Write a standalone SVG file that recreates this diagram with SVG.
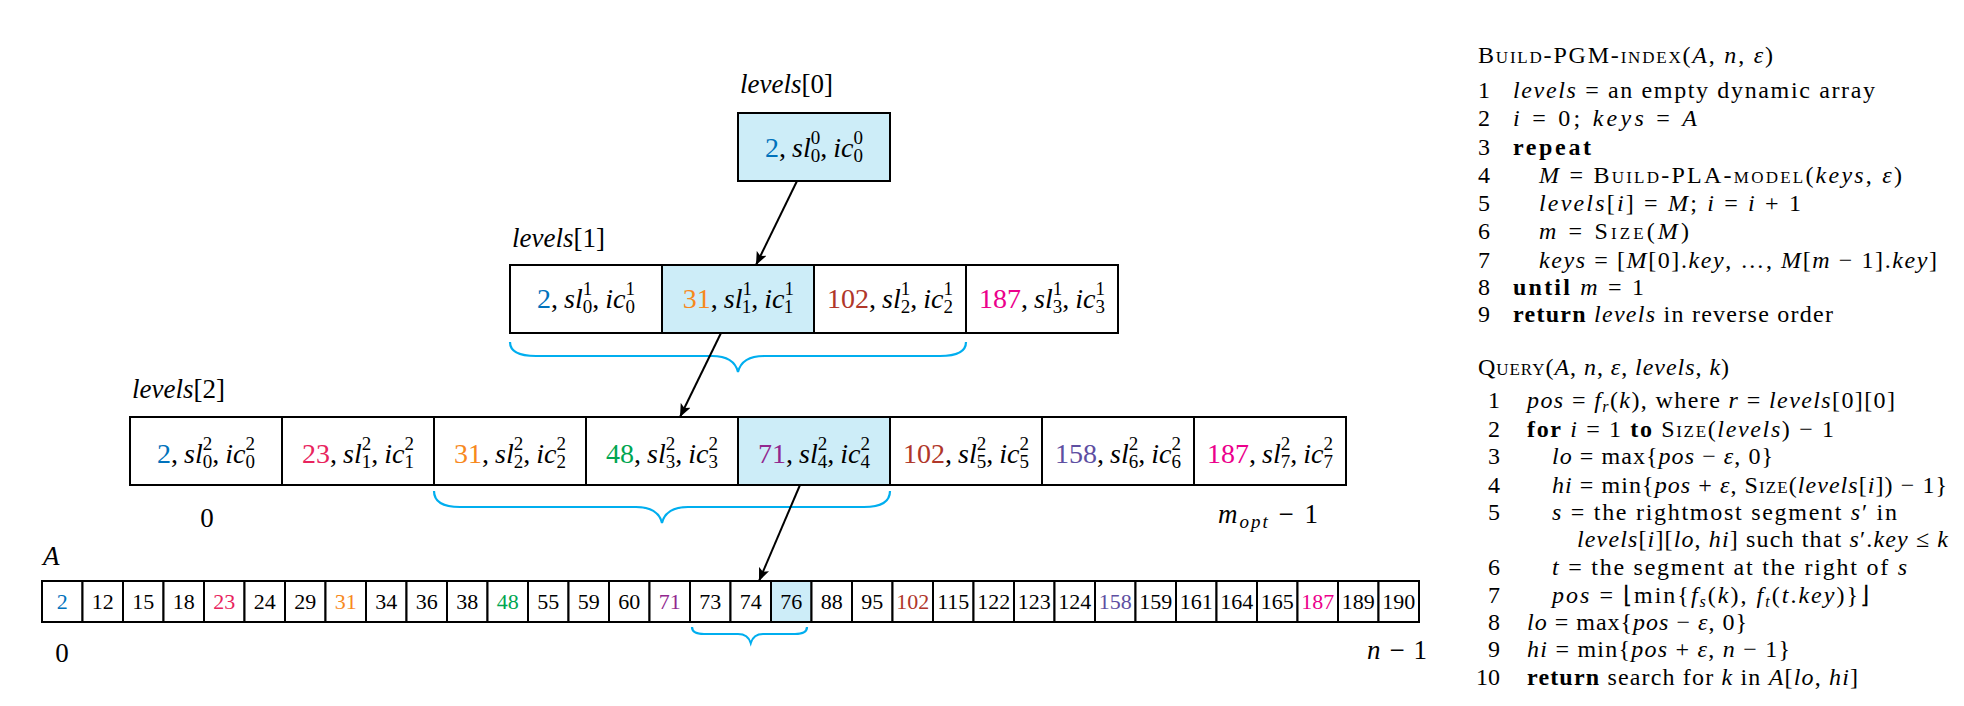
<svg xmlns="http://www.w3.org/2000/svg" width="1964" height="706" viewBox="0 0 1964 706">
<style>
.box{stroke:#000;stroke-width:2;fill:#fff}
.hl{fill:#cdedf8}
.t{font-family:"Liberation Serif","Times New Roman",serif;font-size:28px;fill:#000}
.lb{font-family:"Liberation Serif","Times New Roman",serif;font-size:27px;fill:#000}
.n{font-family:"Liberation Serif","Times New Roman",serif;font-size:22px;fill:#000}
.p{font-family:"Liberation Serif","Times New Roman",serif;font-size:24px;fill:#000}
.s{font-size:19px;font-style:normal}
.i{font-style:italic}
.b{font-weight:bold}
.sc{font-variant:small-caps}
.brace{fill:none;stroke:#00aeef;stroke-width:2.2}
.edge{stroke:#000;stroke-width:2;fill:none}
.c1{fill:#0072bc}.c2{fill:#e8245e}.c3{fill:#f7891e}.c4{fill:#00a651}.c5{fill:#92278f}.c6{fill:#b0372a}.c7{fill:#5e4fa2}.c8{fill:#ec008c}
</style>
<defs>
<marker id="ah" markerWidth="14" markerHeight="11" refX="13" refY="5.5" orient="auto" markerUnits="userSpaceOnUse"><path d="M0,0 L13,5.5 L0,11 L3,5.5 Z" fill="#000"/></marker>
</defs>

<!-- labels -->
<g id="labels">
<text x="740" y="93" class="lb"><tspan class="i">levels</tspan>[0]</text>
<text x="512" y="247" class="lb"><tspan class="i">levels</tspan>[1]</text>
<text x="132" y="398" class="lb"><tspan class="i">levels</tspan>[2]</text>
<text x="43" y="565" class="lb i">A</text>
<text x="207" y="527" class="lb" text-anchor="middle">0</text>
<text x="1218" y="523" class="lb" textLength="100" lengthAdjust="spacing"><tspan class="i">m</tspan><tspan class="i" font-size="19" dy="5">opt</tspan><tspan dy="-5"> − 1</tspan></text>
<text x="62" y="662" class="lb" text-anchor="middle">0</text>
<text x="1367" y="659" class="lb" textLength="60" lengthAdjust="spacing"><tspan class="i">n</tspan> − 1</text>
</g>

<!-- levels[0] -->
<g id="l0-0"><rect x="738" y="113" width="152" height="68" class="box hl"/><text x="814" y="157" class="t" text-anchor="middle"><tspan class="c1">2</tspan>,<tspan class="i" dx="6">sl</tspan><tspan class="s" dy="-13">0</tspan><tspan class="s" dx="-9.5" dy="18">0</tspan><tspan dy="-5">,</tspan><tspan class="i" dx="6">ic</tspan><tspan class="s" dy="-13">0</tspan><tspan class="s" dx="-9.5" dy="18">0</tspan></text></g>

<!-- levels[1] -->
<g id="l1-0"><rect x="510" y="265" width="152" height="68" class="box"/><text x="586" y="308" class="t" text-anchor="middle"><tspan class="c1">2</tspan>,<tspan class="i" dx="6">sl</tspan><tspan class="s" dy="-13">1</tspan><tspan class="s" dx="-9.5" dy="18">0</tspan><tspan dy="-5">,</tspan><tspan class="i" dx="6">ic</tspan><tspan class="s" dy="-13">1</tspan><tspan class="s" dx="-9.5" dy="18">0</tspan></text></g>
<g id="l1-1"><rect x="662" y="265" width="152" height="68" class="box hl"/><text x="738" y="308" class="t" text-anchor="middle"><tspan class="c3">31</tspan>,<tspan class="i" dx="6">sl</tspan><tspan class="s" dy="-13">1</tspan><tspan class="s" dx="-9.5" dy="18">1</tspan><tspan dy="-5">,</tspan><tspan class="i" dx="6">ic</tspan><tspan class="s" dy="-13">1</tspan><tspan class="s" dx="-9.5" dy="18">1</tspan></text></g>
<g id="l1-2"><rect x="814" y="265" width="152" height="68" class="box"/><text x="890" y="308" class="t" text-anchor="middle"><tspan class="c6">102</tspan>,<tspan class="i" dx="6">sl</tspan><tspan class="s" dy="-13">1</tspan><tspan class="s" dx="-9.5" dy="18">2</tspan><tspan dy="-5">,</tspan><tspan class="i" dx="6">ic</tspan><tspan class="s" dy="-13">1</tspan><tspan class="s" dx="-9.5" dy="18">2</tspan></text></g>
<g id="l1-3"><rect x="966" y="265" width="152" height="68" class="box"/><text x="1042" y="308" class="t" text-anchor="middle"><tspan class="c8">187</tspan>,<tspan class="i" dx="6">sl</tspan><tspan class="s" dy="-13">1</tspan><tspan class="s" dx="-9.5" dy="18">3</tspan><tspan dy="-5">,</tspan><tspan class="i" dx="6">ic</tspan><tspan class="s" dy="-13">1</tspan><tspan class="s" dx="-9.5" dy="18">3</tspan></text></g>

<!-- levels[2] -->
<g id="l2-0"><rect x="130" y="417" width="152" height="68" class="box"/><text x="206" y="463" class="t" text-anchor="middle"><tspan class="c1">2</tspan>,<tspan class="i" dx="6">sl</tspan><tspan class="s" dy="-13">2</tspan><tspan class="s" dx="-9.5" dy="18">0</tspan><tspan dy="-5">,</tspan><tspan class="i" dx="6">ic</tspan><tspan class="s" dy="-13">2</tspan><tspan class="s" dx="-9.5" dy="18">0</tspan></text></g>
<g id="l2-1"><rect x="282" y="417" width="152" height="68" class="box"/><text x="358" y="463" class="t" text-anchor="middle"><tspan class="c2">23</tspan>,<tspan class="i" dx="6">sl</tspan><tspan class="s" dy="-13">2</tspan><tspan class="s" dx="-9.5" dy="18">1</tspan><tspan dy="-5">,</tspan><tspan class="i" dx="6">ic</tspan><tspan class="s" dy="-13">2</tspan><tspan class="s" dx="-9.5" dy="18">1</tspan></text></g>
<g id="l2-2"><rect x="434" y="417" width="152" height="68" class="box"/><text x="510" y="463" class="t" text-anchor="middle"><tspan class="c3">31</tspan>,<tspan class="i" dx="6">sl</tspan><tspan class="s" dy="-13">2</tspan><tspan class="s" dx="-9.5" dy="18">2</tspan><tspan dy="-5">,</tspan><tspan class="i" dx="6">ic</tspan><tspan class="s" dy="-13">2</tspan><tspan class="s" dx="-9.5" dy="18">2</tspan></text></g>
<g id="l2-3"><rect x="586" y="417" width="152" height="68" class="box"/><text x="662" y="463" class="t" text-anchor="middle"><tspan class="c4">48</tspan>,<tspan class="i" dx="6">sl</tspan><tspan class="s" dy="-13">2</tspan><tspan class="s" dx="-9.5" dy="18">3</tspan><tspan dy="-5">,</tspan><tspan class="i" dx="6">ic</tspan><tspan class="s" dy="-13">2</tspan><tspan class="s" dx="-9.5" dy="18">3</tspan></text></g>
<g id="l2-4"><rect x="738" y="417" width="152" height="68" class="box hl"/><text x="814" y="463" class="t" text-anchor="middle"><tspan class="c5">71</tspan>,<tspan class="i" dx="6">sl</tspan><tspan class="s" dy="-13">2</tspan><tspan class="s" dx="-9.5" dy="18">4</tspan><tspan dy="-5">,</tspan><tspan class="i" dx="6">ic</tspan><tspan class="s" dy="-13">2</tspan><tspan class="s" dx="-9.5" dy="18">4</tspan></text></g>
<g id="l2-5"><rect x="890" y="417" width="152" height="68" class="box"/><text x="966" y="463" class="t" text-anchor="middle"><tspan class="c6">102</tspan>,<tspan class="i" dx="6">sl</tspan><tspan class="s" dy="-13">2</tspan><tspan class="s" dx="-9.5" dy="18">5</tspan><tspan dy="-5">,</tspan><tspan class="i" dx="6">ic</tspan><tspan class="s" dy="-13">2</tspan><tspan class="s" dx="-9.5" dy="18">5</tspan></text></g>
<g id="l2-6"><rect x="1042" y="417" width="152" height="68" class="box"/><text x="1118" y="463" class="t" text-anchor="middle"><tspan class="c7">158</tspan>,<tspan class="i" dx="6">sl</tspan><tspan class="s" dy="-13">2</tspan><tspan class="s" dx="-9.5" dy="18">6</tspan><tspan dy="-5">,</tspan><tspan class="i" dx="6">ic</tspan><tspan class="s" dy="-13">2</tspan><tspan class="s" dx="-9.5" dy="18">6</tspan></text></g>
<g id="l2-7"><rect x="1194" y="417" width="152" height="68" class="box"/><text x="1270" y="463" class="t" text-anchor="middle"><tspan class="c8">187</tspan>,<tspan class="i" dx="6">sl</tspan><tspan class="s" dy="-13">2</tspan><tspan class="s" dx="-9.5" dy="18">7</tspan><tspan dy="-5">,</tspan><tspan class="i" dx="6">ic</tspan><tspan class="s" dy="-13">2</tspan><tspan class="s" dx="-9.5" dy="18">7</tspan></text></g>

<!-- array A -->
<g id="A-0"><rect x="42" y="581" width="40.5" height="41" class="box"/><text x="62.25" y="609" class="n c1" text-anchor="middle">2</text></g>
<g id="A-1"><rect x="82.5" y="581" width="40.5" height="41" class="box"/><text x="102.75" y="609" class="n" text-anchor="middle">12</text></g>
<g id="A-2"><rect x="123" y="581" width="40.5" height="41" class="box"/><text x="143.25" y="609" class="n" text-anchor="middle">15</text></g>
<g id="A-3"><rect x="163.5" y="581" width="40.5" height="41" class="box"/><text x="183.75" y="609" class="n" text-anchor="middle">18</text></g>
<g id="A-4"><rect x="204" y="581" width="40.5" height="41" class="box"/><text x="224.25" y="609" class="n c2" text-anchor="middle">23</text></g>
<g id="A-5"><rect x="244.5" y="581" width="40.5" height="41" class="box"/><text x="264.75" y="609" class="n" text-anchor="middle">24</text></g>
<g id="A-6"><rect x="285" y="581" width="40.5" height="41" class="box"/><text x="305.25" y="609" class="n" text-anchor="middle">29</text></g>
<g id="A-7"><rect x="325.5" y="581" width="40.5" height="41" class="box"/><text x="345.75" y="609" class="n c3" text-anchor="middle">31</text></g>
<g id="A-8"><rect x="366" y="581" width="40.5" height="41" class="box"/><text x="386.25" y="609" class="n" text-anchor="middle">34</text></g>
<g id="A-9"><rect x="406.5" y="581" width="40.5" height="41" class="box"/><text x="426.75" y="609" class="n" text-anchor="middle">36</text></g>
<g id="A-10"><rect x="447" y="581" width="40.5" height="41" class="box"/><text x="467.25" y="609" class="n" text-anchor="middle">38</text></g>
<g id="A-11"><rect x="487.5" y="581" width="40.5" height="41" class="box"/><text x="507.75" y="609" class="n c4" text-anchor="middle">48</text></g>
<g id="A-12"><rect x="528" y="581" width="40.5" height="41" class="box"/><text x="548.25" y="609" class="n" text-anchor="middle">55</text></g>
<g id="A-13"><rect x="568.5" y="581" width="40.5" height="41" class="box"/><text x="588.75" y="609" class="n" text-anchor="middle">59</text></g>
<g id="A-14"><rect x="609" y="581" width="40.5" height="41" class="box"/><text x="629.25" y="609" class="n" text-anchor="middle">60</text></g>
<g id="A-15"><rect x="649.5" y="581" width="40.5" height="41" class="box"/><text x="669.75" y="609" class="n c5" text-anchor="middle">71</text></g>
<g id="A-16"><rect x="690" y="581" width="40.5" height="41" class="box"/><text x="710.25" y="609" class="n" text-anchor="middle">73</text></g>
<g id="A-17"><rect x="730.5" y="581" width="40.5" height="41" class="box"/><text x="750.75" y="609" class="n" text-anchor="middle">74</text></g>
<g id="A-18"><rect x="771" y="581" width="40.5" height="41" class="box hl"/><text x="791.25" y="609" class="n" text-anchor="middle">76</text></g>
<g id="A-19"><rect x="811.5" y="581" width="40.5" height="41" class="box"/><text x="831.75" y="609" class="n" text-anchor="middle">88</text></g>
<g id="A-20"><rect x="852" y="581" width="40.5" height="41" class="box"/><text x="872.25" y="609" class="n" text-anchor="middle">95</text></g>
<g id="A-21"><rect x="892.5" y="581" width="40.5" height="41" class="box"/><text x="912.75" y="609" class="n c6" text-anchor="middle">102</text></g>
<g id="A-22"><rect x="933" y="581" width="40.5" height="41" class="box"/><text x="953.25" y="609" class="n" text-anchor="middle">115</text></g>
<g id="A-23"><rect x="973.5" y="581" width="40.5" height="41" class="box"/><text x="993.75" y="609" class="n" text-anchor="middle">122</text></g>
<g id="A-24"><rect x="1014" y="581" width="40.5" height="41" class="box"/><text x="1034.25" y="609" class="n" text-anchor="middle">123</text></g>
<g id="A-25"><rect x="1054.5" y="581" width="40.5" height="41" class="box"/><text x="1074.75" y="609" class="n" text-anchor="middle">124</text></g>
<g id="A-26"><rect x="1095" y="581" width="40.5" height="41" class="box"/><text x="1115.25" y="609" class="n c7" text-anchor="middle">158</text></g>
<g id="A-27"><rect x="1135.5" y="581" width="40.5" height="41" class="box"/><text x="1155.75" y="609" class="n" text-anchor="middle">159</text></g>
<g id="A-28"><rect x="1176" y="581" width="40.5" height="41" class="box"/><text x="1196.25" y="609" class="n" text-anchor="middle">161</text></g>
<g id="A-29"><rect x="1216.5" y="581" width="40.5" height="41" class="box"/><text x="1236.75" y="609" class="n" text-anchor="middle">164</text></g>
<g id="A-30"><rect x="1257" y="581" width="40.5" height="41" class="box"/><text x="1277.25" y="609" class="n" text-anchor="middle">165</text></g>
<g id="A-31"><rect x="1297.5" y="581" width="40.5" height="41" class="box"/><text x="1317.75" y="609" class="n c8" text-anchor="middle">187</text></g>
<g id="A-32"><rect x="1338" y="581" width="40.5" height="41" class="box"/><text x="1358.25" y="609" class="n" text-anchor="middle">189</text></g>
<g id="A-33"><rect x="1378.5" y="581" width="40.5" height="41" class="box"/><text x="1398.75" y="609" class="n" text-anchor="middle">190</text></g>

<!-- braces -->
<g id="braces">
<path class="brace" d="M510,342 Q510,356 536,356 L712,356 Q734,356 738,372 Q742,356 764,356 L940,356 Q966,356 966,342"/>
<path class="brace" d="M434,491 Q434,507 460,507 L636,507 Q658,507 662,523 Q666,507 688,507 L864,507 Q890,507 890,491"/>
<path class="brace" d="M692,627 Q692,634 704,634 L738,634 Q748,634 750.75,643 Q753.5,634 763,634 L795,634 Q807,634 807,627"/>
</g>

<!-- connectors -->
<g id="connectors">
<line class="edge" x1="797" y1="181" x2="756" y2="265" marker-end="url(#ah)"/>
<line class="edge" x1="721" y1="333" x2="680" y2="417" marker-end="url(#ah)"/>
<line class="edge" x1="800" y1="485" x2="759" y2="581" marker-end="url(#ah)"/>
</g>

<!-- pseudocode: Build-PGM-index -->
<g id="build-pgm-index">
<text x="1478" y="63" class="p" textLength="295" lengthAdjust="spacing"><tspan class="sc">Build-PGM-index</tspan>(<tspan class="i">A</tspan>, <tspan class="i">n</tspan>, <tspan class="i">ε</tspan>)</text>
<text x="1478" y="98" class="p">1</text>
<text x="1513" y="98" class="p" textLength="362" lengthAdjust="spacing"><tspan class="i">levels</tspan> = an empty dynamic array</text>
<text x="1478" y="126" class="p">2</text>
<text x="1513" y="126" class="p" textLength="184" lengthAdjust="spacing"><tspan class="i">i</tspan> = 0;  <tspan class="i">keys</tspan> = <tspan class="i">A</tspan></text>
<text x="1478" y="155" class="p">3</text>
<text x="1513" y="155" class="p b" textLength="78" lengthAdjust="spacing">repeat</text>
<text x="1478" y="183" class="p">4</text>
<text x="1539" y="183" class="p" textLength="363" lengthAdjust="spacing"><tspan class="i">M</tspan> = <tspan class="sc">Build-PLA-model</tspan>(<tspan class="i">keys</tspan>, <tspan class="i">ε</tspan>)</text>
<text x="1478" y="211" class="p">5</text>
<text x="1539" y="211" class="p" textLength="262" lengthAdjust="spacing"><tspan class="i">levels</tspan>[<tspan class="i">i</tspan>] = <tspan class="i">M</tspan>;  <tspan class="i">i</tspan> = <tspan class="i">i</tspan> + 1</text>
<text x="1478" y="239" class="p">6</text>
<text x="1539" y="239" class="p" textLength="150" lengthAdjust="spacing"><tspan class="i">m</tspan> = <tspan class="sc">Size</tspan>(<tspan class="i">M</tspan>)</text>
<text x="1478" y="268" class="p">7</text>
<text x="1539" y="268" class="p" textLength="398" lengthAdjust="spacing"><tspan class="i">keys</tspan> = [<tspan class="i">M</tspan>[0].<tspan class="i">key</tspan>, …, <tspan class="i">M</tspan>[<tspan class="i">m</tspan> − 1].<tspan class="i">key</tspan>]</text>
<text x="1478" y="295" class="p">8</text>
<text x="1513" y="295" class="p" textLength="131" lengthAdjust="spacing"><tspan class="b">until</tspan> <tspan class="i">m</tspan> = 1</text>
<text x="1478" y="322" class="p">9</text>
<text x="1513" y="322" class="p" textLength="320" lengthAdjust="spacing"><tspan class="b">return</tspan> <tspan class="i">levels</tspan> in reverse order</text>
</g>

<!-- pseudocode: Query -->
<g id="query">
<text x="1478" y="375" class="p" textLength="251" lengthAdjust="spacing"><tspan class="sc">Query</tspan>(<tspan class="i">A</tspan>, <tspan class="i">n</tspan>, <tspan class="i">ε</tspan>, <tspan class="i">levels</tspan>, <tspan class="i">k</tspan>)</text>
<text x="1500" y="408" class="p" text-anchor="end">1</text>
<text x="1527" y="408" class="p" textLength="368" lengthAdjust="spacing"><tspan class="i">pos</tspan> = <tspan class="i">f</tspan><tspan class="i" font-size="16" dy="4">r</tspan><tspan dy="-4">(</tspan><tspan class="i">k</tspan>), where <tspan class="i">r</tspan> = <tspan class="i">levels</tspan>[0][0]</text>
<text x="1500" y="437" class="p" text-anchor="end">2</text>
<text x="1527" y="437" class="p" textLength="307" lengthAdjust="spacing"><tspan class="b">for</tspan> <tspan class="i">i</tspan> = 1 <tspan class="b">to</tspan> <tspan class="sc">Size</tspan>(<tspan class="i">levels</tspan>) − 1</text>
<text x="1500" y="464" class="p" text-anchor="end">3</text>
<text x="1552" y="464" class="p" textLength="221" lengthAdjust="spacing"><tspan class="i">lo</tspan> = max{<tspan class="i">pos</tspan> − <tspan class="i">ε</tspan>, 0}</text>
<text x="1500" y="493" class="p" text-anchor="end">4</text>
<text x="1552" y="493" class="p" textLength="395" lengthAdjust="spacing"><tspan class="i">hi</tspan> = min{<tspan class="i">pos</tspan> + <tspan class="i">ε</tspan>, <tspan class="sc">Size</tspan>(<tspan class="i">levels</tspan>[<tspan class="i">i</tspan>]) − 1}</text>
<text x="1500" y="520" class="p" text-anchor="end">5</text>
<text x="1552" y="520" class="p" textLength="345" lengthAdjust="spacing"><tspan class="i">s</tspan> = the rightmost segment <tspan class="i">s</tspan>′ in</text>
<text x="1577" y="547" class="p" textLength="371" lengthAdjust="spacing"><tspan class="i">levels</tspan>[<tspan class="i">i</tspan>][<tspan class="i">lo</tspan>, <tspan class="i">hi</tspan>] such that <tspan class="i">s</tspan>′.<tspan class="i">key</tspan> ≤ <tspan class="i">k</tspan></text>
<text x="1500" y="575" class="p" text-anchor="end">6</text>
<text x="1552" y="575" class="p" textLength="355" lengthAdjust="spacing"><tspan class="i">t</tspan> = the segment at the right of <tspan class="i">s</tspan></text>
<text x="1500" y="603" class="p" text-anchor="end">7</text>
<text x="1552" y="603" class="p" textLength="317" lengthAdjust="spacing"><tspan class="i">pos</tspan> = ⌊min{<tspan class="i">f</tspan><tspan class="i" font-size="16" dy="4">s</tspan><tspan dy="-4">(</tspan><tspan class="i">k</tspan>), <tspan class="i">f</tspan><tspan class="i" font-size="16" dy="4">t</tspan><tspan dy="-4">(</tspan><tspan class="i">t</tspan>.<tspan class="i">key</tspan>)}⌋</text>
<text x="1500" y="630" class="p" text-anchor="end">8</text>
<text x="1527" y="630" class="p" textLength="220" lengthAdjust="spacing"><tspan class="i">lo</tspan> = max{<tspan class="i">pos</tspan> − <tspan class="i">ε</tspan>, 0}</text>
<text x="1500" y="657" class="p" text-anchor="end">9</text>
<text x="1527" y="657" class="p" textLength="263" lengthAdjust="spacing"><tspan class="i">hi</tspan> = min{<tspan class="i">pos</tspan> + <tspan class="i">ε</tspan>, <tspan class="i">n</tspan> − 1}</text>
<text x="1500" y="685" class="p" text-anchor="end">10</text>
<text x="1527" y="685" class="p" textLength="331" lengthAdjust="spacing"><tspan class="b">return</tspan> search for <tspan class="i">k</tspan> in <tspan class="i">A</tspan>[<tspan class="i">lo</tspan>, <tspan class="i">hi</tspan>]</text>
</g>
</svg>
